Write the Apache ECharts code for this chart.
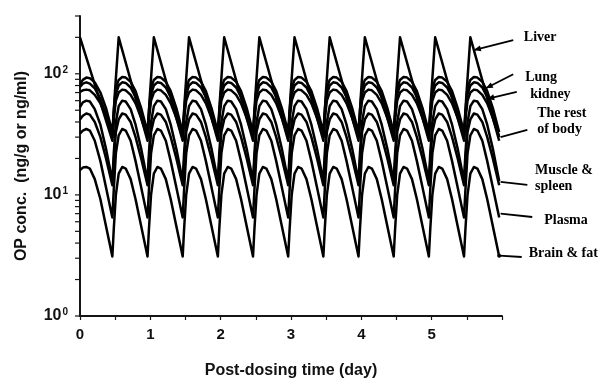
<!DOCTYPE html>
<html>
<head>
<meta charset="utf-8">
<script src="https://cdn.jsdelivr.net/npm/echarts@6/dist/echarts.min.js"></script>
<style>
  html, body { margin: 0; padding: 0; background: #fff; }
  #chart { width: 603px; height: 381px; }
</style>
</head>
<body>
<div id="chart"></div>
<script>
// Repeat doses every half day; each cycle starts at a dose (trough)
const doseTimes = [0.46, 0.96, 1.46, 1.96, 2.46, 2.96, 3.46, 3.96, 4.46, 4.96, 5.46];

// Tick values
const xLabelValues = [0, 1, 2, 3, 4, 5];
const yLabelValues = [1, 10, 100];
const yTickValues = [1, 2, 3, 4, 5, 6, 7, 8, 9, 10, 20, 30, 40, 50, 60, 70, 80, 90, 100, 200, 300];

// First interval, from time 0 to the first repeat dose: [day, conc]
const liverStart  = [[0, 200], [0.46, 28]];
const lungStart   = [[0, 82], [0.04, 89], [0.09, 93], [0.14, 92], [0.21, 85], [0.29, 70], [0.37, 52], [0.46, 33]];
const kidneyStart = [[0, 78], [0.04, 83], [0.09, 85], [0.14, 83], [0.21, 76], [0.29, 62], [0.37, 46], [0.46, 30]];
const restStart   = [[0, 71], [0.04, 73], [0.09, 74], [0.14, 73], [0.21, 67], [0.29, 57], [0.37, 44], [0.46, 30]];
const muscleStart = [[0, 53], [0.04, 58], [0.09, 60], [0.14, 59], [0.21, 51], [0.29, 38], [0.37, 24], [0.46, 13]];
const spleenStart = [[0, 42], [0.04, 45], [0.09, 47], [0.14, 46], [0.21, 40], [0.29, 30], [0.37, 20], [0.46, 12]];
const plasmaStart = [[0, 32], [0.04, 34], [0.09, 35], [0.14, 34], [0.21, 28], [0.29, 19], [0.37, 11.5], [0.46, 6.5]];
const brainStart  = [[0, 16], [0.04, 16.8], [0.09, 17], [0.14, 16.5], [0.21, 13.5], [0.29, 9.2], [0.37, 5.5], [0.46, 3.1]];

// Steady-state profile within one dosing interval: [days after dose, conc]
const liverCycle  = [[0, 28], [0.03, 62], [0.09, 200], [0.5, 28]];
const lungCycle   = [[0, 33], [0.02, 50], [0.05, 76], [0.09, 89], [0.14, 94], [0.19, 93], [0.26, 86], [0.33, 72], [0.41, 52], [0.5, 33]];
const kidneyCycle = [[0, 30], [0.02, 45], [0.05, 68], [0.09, 80], [0.14, 85], [0.19, 84], [0.26, 77], [0.33, 64], [0.41, 46], [0.5, 30]];
const restCycle   = [[0, 30], [0.02, 42], [0.05, 60], [0.09, 70], [0.14, 74], [0.19, 73], [0.26, 67], [0.33, 57], [0.41, 43], [0.5, 30]];
const muscleCycle = [[0, 13], [0.02, 22], [0.05, 40], [0.09, 54], [0.14, 60], [0.19, 59], [0.26, 51], [0.33, 38], [0.41, 24], [0.5, 13]];
const spleenCycle = [[0, 12], [0.02, 19], [0.05, 33], [0.09, 42], [0.14, 47], [0.19, 46], [0.26, 40], [0.33, 30], [0.41, 20], [0.5, 12]];
const plasmaCycle = [[0, 6.5], [0.02, 11], [0.05, 22], [0.09, 31], [0.14, 35], [0.19, 34], [0.26, 28], [0.33, 19], [0.41, 11.5], [0.5, 6.5]];
const brainCycle  = [[0, 3.1], [0.02, 5.2], [0.05, 10], [0.09, 15], [0.14, 17], [0.19, 16.5], [0.26, 13.5], [0.33, 9.2], [0.41, 5.5], [0.5, 3.1]];

const tissues = [
  { name: 'Liver',  start: liverStart,  cycle: liverCycle },
  { name: 'Lung',   start: lungStart,   cycle: lungCycle },
  { name: 'Kidney', start: kidneyStart, cycle: kidneyCycle },
  { name: 'Rest',   start: restStart,   cycle: restCycle },
  { name: 'Muscle', start: muscleStart, cycle: muscleCycle },
  { name: 'Spleen', start: spleenStart, cycle: spleenCycle },
  { name: 'Plasma', start: plasmaStart, cycle: plasmaCycle },
  { name: 'Brain',  start: brainStart,  cycle: brainCycle }
];

// Curve labels on the right: text anchor, arrow tail and arrow tip in data units
const curveNotes = [
  { text: 'Liver',             at: [6.31, 198],  tail: [6.16, 190],  tip: [5.6, 157],   arrow: true },
  { text: 'Lung',              at: [6.33, 94],   tail: [6.16, 99],   tip: [5.77, 76],   arrow: true },
  { text: 'kidney',            at: [6.40, 67],   tail: [6.21, 71],   tip: [5.79, 62],   arrow: true },
  { text: 'The rest\nof body', at: [6.50, 35],   tail: [6.36, 34.4], tip: [5.98, 30],   arrow: false },
  { text: 'Muscle &\nspleen',  at: [6.47, 11.8], tail: [6.36, 12.1], tip: [5.98, 12.8], arrow: false },
  { text: 'Plasma',            at: [6.60, 6.1],  tail: [6.43, 6.57], tip: [5.98, 7.0],  arrow: false },
  { text: 'Brain & fat',       at: [6.38, 3.31], tail: [6.28, 3.07], tip: [5.96, 3.15], arrow: false, dot: true }
];

function buildSeriesData(t) {
  const pts = t.start.slice();
  doseTimes.forEach(d => {
    t.cycle.slice(1).forEach(p => pts.push([+(d + p[0]).toFixed(3), p[1]]));
  });
  return pts;
}

const axisColor = '#151515';
const sans = 'Liberation Sans';

const chart = echarts.init(document.getElementById('chart'), null, { renderer: 'canvas' });

chart.setOption({
  animation: false,
  grid: { left: 80, right: 101, top: 16, bottom: 65, containLabel: false, outerBoundsMode: 'none' },
  xAxis: {
    type: 'value', min: 0, max: 6, interval: 1,
    axisLine: { show: true, onZero: false, lineStyle: { color: axisColor, width: 2 } },
    axisTick: { show: true, length: 4, lineStyle: { color: axisColor, width: 1.2 } },
    minorTick: { show: true, splitNumber: 2, length: 4, lineStyle: { color: axisColor, width: 1.2 } },
    splitLine: { show: false },
    axisLabel: {
      customValues: xLabelValues,
      margin: 11,
      color: '#111', fontFamily: sans, fontWeight: 'bold', fontSize: 15
    },
    name: 'Post-dosing time (day)', nameLocation: 'middle', nameGap: 47,
    nameTextStyle: { color: '#111', fontFamily: sans, fontWeight: 'bold', fontSize: 16 }
  },
  yAxis: {
    type: 'log', logBase: 10, min: 1, max: 300,
    axisLine: { show: true, lineStyle: { color: axisColor, width: 2 } },
    axisTick: { show: false },
    splitLine: { show: false },
    axisLabel: {
      customValues: yLabelValues,
      margin: 12,
      formatter: v => '{b|10}{s|' + Math.round(Math.log10(v)) + '}',
      rich: {
        b: { color: '#111', fontFamily: sans, fontWeight: 'bold', fontSize: 16, lineHeight: 18 },
        s: { color: '#111', fontFamily: sans, fontWeight: 'bold', fontSize: 10, lineHeight: 10, verticalAlign: 'top', padding: [0, 0, 0, 1] }
      }
    },
    name: 'OP conc.  (ng/g or ng/ml)', nameLocation: 'middle', nameGap: 50,
    nameTextStyle: { color: '#111', fontFamily: sans, fontWeight: 'bold', fontSize: 16 }
  },
  series: tissues.map(t => ({
    name: t.name,
    type: 'line',
    data: buildSeriesData(t),
    showSymbol: false,
    symbol: 'none',
    smooth: false,
    clip: true,
    lineStyle: { color: '#000', width: 2.5, join: 'round' }
  }))
});

const px = p => chart.convertToPixel({ gridIndex: 0 }, p);
const graphics = [];

// Log-axis ticks at every integer multiple within each decade
yTickValues.forEach(v => {
  const p = px([0, v]);
  graphics.push({
    type: 'line', shape: { x1: p[0] - 5, y1: p[1], x2: p[0], y2: p[1] },
    style: { stroke: axisColor, lineWidth: 1.2 }
  });
});

// Right-hand curve labels with pointer lines
curveNotes.forEach(n => {
  const a = px(n.at), t = px(n.tail), h = px(n.tip);
  const lines = n.text.split('\n').length;
  graphics.push({
    type: 'text', x: a[0], y: a[1] - (lines - 1) * 8,
    style: {
      text: n.text, fill: '#000', align: 'left', verticalAlign: 'middle',
      font: 'bold 14px "Liberation Serif"', lineHeight: 16
    }
  });
  graphics.push({
    type: 'line', shape: { x1: t[0], y1: t[1], x2: h[0], y2: h[1] },
    style: { stroke: '#000', lineWidth: 1.8 }
  });
  if (n.arrow) {
    const dx = h[0] - t[0], dy = h[1] - t[1], len = Math.hypot(dx, dy);
    const ux = dx / len, uy = dy / len, L = 7, W = 3;
    const bx = h[0] - ux * L, by = h[1] - uy * L;
    graphics.push({
      type: 'polygon',
      shape: { points: [[h[0], h[1]], [bx - uy * W, by + ux * W], [bx + uy * W, by - ux * W]] },
      style: { fill: '#000' }
    });
  }
  if (n.dot) {
    graphics.push({ type: 'circle', shape: { cx: h[0], cy: h[1], r: 2 }, style: { fill: '#000' } });
  }
});
chart.setOption({ graphic: graphics });
</script>
</body>
</html>
